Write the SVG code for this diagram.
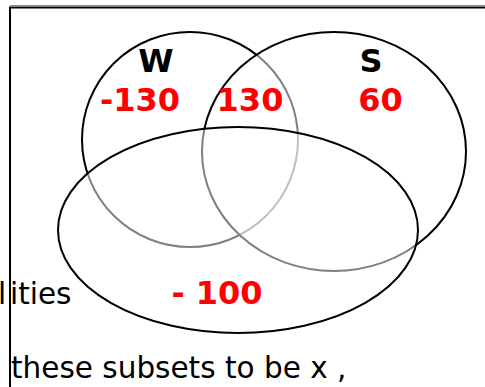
<svg xmlns="http://www.w3.org/2000/svg" width="485" height="387" viewBox="0 0 485 387">
<style>
.set{fill:#ffffff;fill-opacity:0.5;stroke:#000;stroke-width:2}
.lbl{font-family:"DejaVu Sans",Verdana,sans-serif;font-weight:bold;font-size:32px;text-anchor:middle}
.num{fill:#ff0000}
.body{font-family:"DejaVu Sans",Verdana,sans-serif;font-size:29.5px;fill:#000}
</style>
<rect width="485" height="387" fill="#ffffff"/>
<g id="frame">
<line x1="10" y1="5.5" x2="485" y2="5.5" stroke="#8a8a8a" stroke-width="1.2"/>
<rect x="10" y="7.5" width="520" height="420" fill="none" stroke="#000" stroke-width="2"/>
</g>
<g id="bg-text">
<text class="body" x="-2 10" y="304">lities</text>
<text class="body" x="11" y="378">these subsets to be x ,</text>
</g>
<g id="set-W">
<ellipse class="set" cx="190" cy="139.5" rx="108" ry="107.5"/>
</g>
<g id="set-S">
<ellipse class="set" cx="334" cy="151.5" rx="132" ry="119.5"/>
</g>
<g id="set-bottom">
<ellipse class="set" cx="238" cy="230" rx="180" ry="103"/>
</g>
<g id="labels">
<text class="lbl" x="156" y="72">W</text>
<text class="lbl" x="371" y="72">S</text>
<text class="lbl num" x="140" y="111">-130</text>
<text class="lbl num" x="250" y="111">130</text>
<text class="lbl num" x="380.5" y="111">60</text>
<text class="lbl num" x="217" y="304">- 100</text>
</g>
</svg>
